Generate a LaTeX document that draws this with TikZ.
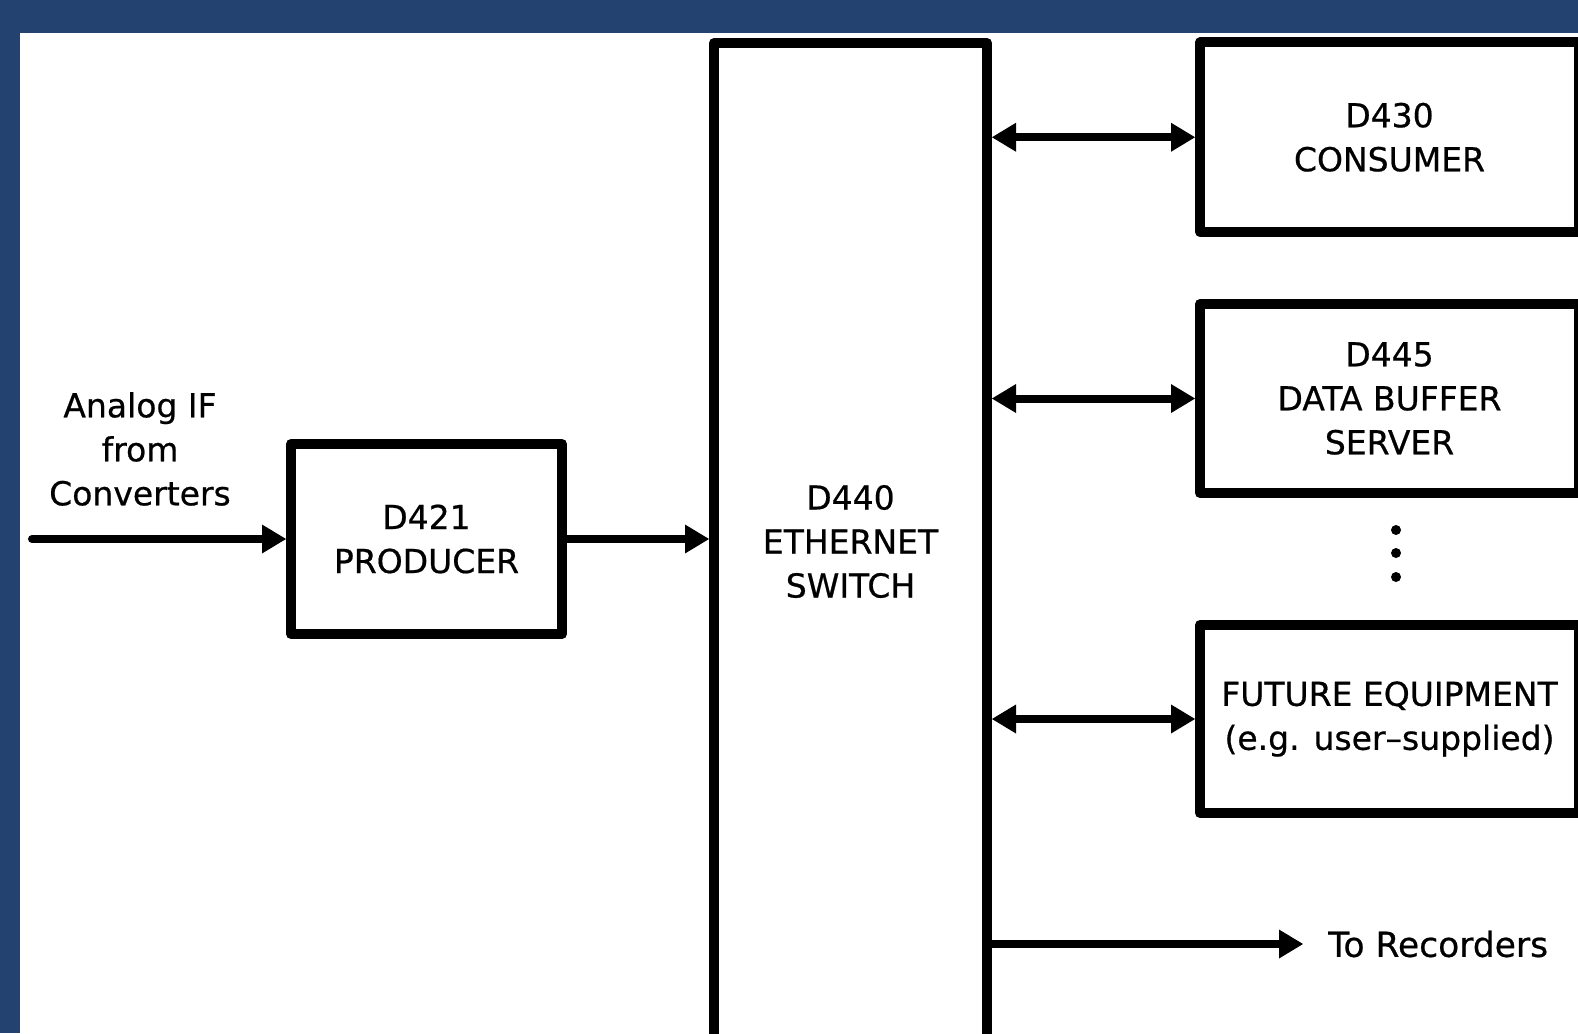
\documentclass[tikz,border=0pt]{standalone}
\usepackage{fontspec}
\setmainfont{DejaVu Sans}[FakeBold=0.6]
\usetikzlibrary{arrows.meta,positioning}
\definecolor{FrameBlue}{HTML}{244270}
\tikzset{
  blockbox/.style={draw=black, line width=10pt, line join=round, align=center, inner sep=0pt},
  arrow/.style={-{Triangle[length=24pt, width=29pt, line width=0pt]}, line width=8pt, draw=black},
  duplex/.style={{Triangle[length=24pt, width=29pt, line width=0pt]}-{Triangle[length=24pt, width=29pt, line width=0pt]}, line width=8pt, draw=black},
  sidebox/.style={blockbox, minimum width=379pt}
}

\begin{document}
\begin{tikzpicture}[x=1pt, y=-1pt, font=\fontsize{33}{44}\selectfont]
    \useasboundingbox (0,0) rectangle (1578,1033);
    \fill[FrameBlue] (0,0) rectangle (1578,1033);
    \fill[white] (20,33) rectangle (1578,1033);
    \clip (0,0) rectangle (1578,1033);

    \node[align=center, inner sep=0pt] (analog) at (140,449) {Analog IF\\from\\Converters};
    \coordinate (ifin) at (32,539);
    \node[blockbox, minimum width=271pt, minimum height=190pt] (producer) at (426.5,539) {D421\\PRODUCER};
    \node[blockbox, minimum width=273pt, minimum height=997pt] (switch) at (850.5,541.5) {D440\\ETHERNET\\SWITCH};
    \node[sidebox, minimum height=189.5pt] (consumer) at (1389.5,137.25) {D430\\CONSUMER};
    \node[sidebox, minimum height=189pt] (buffer) at (1389.5,398.5) {D445\\DATA BUFFER\\SERVER};
    \node[sidebox, minimum height=188pt] (future) at (1389.5,719) {FUTURE EQUIPMENT\\(e.g. user–supplied)};
    \node[anchor=west, inner xsep=25pt, inner ysep=0pt, font=\fontsize{34.5}{44}\selectfont] (recorders) at (1303,944) {To Recorders};
    \foreach \y in {530,553,577}
      \fill (1396,\y) circle (5pt);

    \draw[arrow, line cap=round] (ifin) -- (producer.west);
    \draw[arrow] (producer.east) -- (producer.east -| switch.west);
    \draw[duplex] (consumer.west -| switch.east) -- (consumer.west);
    \draw[duplex] (buffer.west -| switch.east) -- (buffer.west);
    \draw[duplex] (future.west -| switch.east) -- (future.west);
    \draw[arrow] (recorders.west -| switch.east) -- (recorders.west);
\end{tikzpicture}
\end{document}
